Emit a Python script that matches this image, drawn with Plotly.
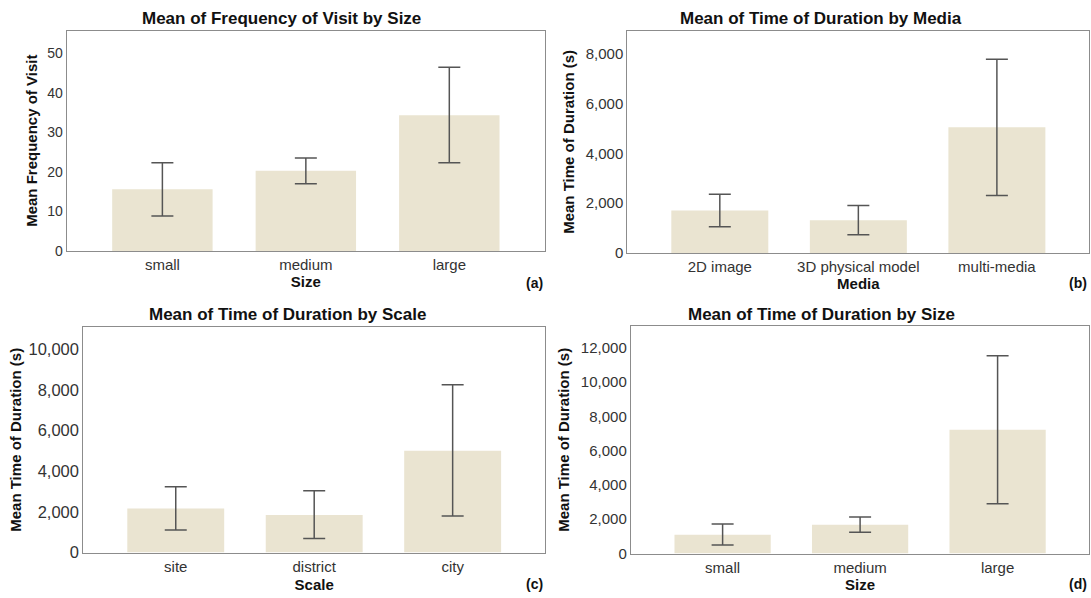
import plotly.graph_objects as go

W, H = 1091, 598
FONT = "Liberation Sans, Arial, sans-serif"
BAR = "#EAE4D1"
ERR = "#555555"
LINE = "#8C8C8C"

# ---- data ----
a_cats = ["small", "medium", "large"]
a_mean = [15.6, 20.3, 34.3]
a_hi = [22.3, 23.5, 46.4]
a_lo = [8.9, 17.0, 22.3]

b_cats = ["2D image", "3D physical model", "multi-media"]
b_mean = [1705, 1315, 5047]
b_hi = [2362, 1906, 7772]
b_lo = [1060, 738, 2309]

c_cats = ["site", "district", "city"]
c_mean = [2171, 1845, 5012]
c_hi = [3233, 3037, 8261]
c_lo = [1110, 686, 1796]

d_cats = ["small", "medium", "large"]
d_mean = [1100, 1680, 7220]
d_hi = [1718, 2124, 11525]
d_lo = [502, 1236, 2896]

titles = ["Mean of Frequency of Visit by Size", "Mean of Time of Duration by Media",
          "Mean of Time of Duration by Scale", "Mean of Time of Duration by Size"]
xtitles = ["Size", "Media", "Scale", "Size"]
ytitles = ["Mean Frequency of Visit", "Mean Time of Duration (s)",
           "Mean Time of Duration (s)", "Mean Time of Duration (s)"]
tags = ["(a)", "(b)", "(c)", "(d)"]

# ---- layout geometry (pixels) ----
boxes = [  # x0, x1, ytop, ybottom
    (66.7, 545.0, 31.0, 255.0),
    (627.4, 1089.3, 31.0, 257.0),
    (83.4, 545.0, 332.0, 561.0),
    (630.9, 1089.3, 331.0, 562.0),
]
yranges = [[0, 55.7], [0, 8920], [0, 11100], [0, 13260]]
ydticks = [10, 2000, 2000, 2000]
ytickfs = [14, 15, 16.5, 15]
xstandoff = [3, 3, 5, 4]
title_pos = [(281, 18.5), (821, 18.5), (287, 319), (821, 319)]
tag_y = [287, 287, 592.5, 592.5]
ytitle_x = [32, 569, 16, 564]

series = [(a_cats, a_mean, a_hi, a_lo), (b_cats, b_mean, b_hi, b_lo),
          (c_cats, c_mean, c_hi, c_lo), (d_cats, d_mean, d_hi, d_lo)]

fig = go.Figure()
annotations = []
for i, (cats, mean, hi, lo) in enumerate(series):
    k = "" if i == 0 else str(i + 1)
    fig.add_trace(go.Bar(
        x=cats, y=mean, width=0.7, marker=dict(color=BAR, line=dict(width=0)),
        error_y=dict(type="data", symmetric=False,
                     array=[h - m for h, m in zip(hi, mean)],
                     arrayminus=[m - l for m, l in zip(mean, lo)],
                     color=ERR, thickness=1.5, width=11),
        xaxis="x" + k, yaxis="y" + k, showlegend=False, hoverinfo="skip"))
    x0, x1, yt, yb = boxes[i]
    fig.update_layout(**{
        "xaxis" + k: dict(domain=[x0 / W, x1 / W], anchor="y" + k,
                          range=[-0.667, 2.667], showline=True, mirror=True,
                          linecolor=LINE, linewidth=1.3, ticks="", showgrid=False,
                          tickfont=dict(size=15, color="#333333", family=FONT),
                          title=dict(text="<b>" + xtitles[i] + "</b>", standoff=xstandoff[i],
                                     font=dict(size=15, color="#111111", family=FONT)),
                          fixedrange=True),
        "yaxis" + k: dict(domain=[1 - yb / H, 1 - yt / H], anchor="x" + k,
                          range=yranges[i], dtick=ydticks[i], tick0=0,
                          showline=True, mirror=True, linecolor=LINE, linewidth=1.3,
                          ticks="", showgrid=False, zeroline=False, tickformat=",d",
                          tickfont=dict(size=ytickfs[i], color="#333333", family=FONT),
                          fixedrange=True),
    })
    tx, ty = title_pos[i]
    annotations.append(dict(text="<b>" + titles[i] + "</b>", x=tx / W, y=1 - ty / H,
                            xref="paper", yref="paper", xanchor="center", yanchor="middle",
                            showarrow=False, font=dict(size=17, color="#111111", family=FONT)))
    annotations.append(dict(text="<b>" + ytitles[i] + "</b>", x=ytitle_x[i] / W,
                            y=1 - (yt + yb) / 2 / H, textangle=-90,
                            xref="paper", yref="paper", xanchor="center", yanchor="middle",
                            showarrow=False, font=dict(size=15, color="#111111", family=FONT)))
    annotations.append(dict(text="<b>" + tags[i] + "</b>", x=x1 / W, y=1 - tag_y[i] / H,
                            xref="paper", yref="paper", xanchor="right", yanchor="middle",
                            showarrow=False, font=dict(size=14, color="#111111", family=FONT)))

fig.update_layout(width=W, height=H, margin=dict(l=0, r=0, t=0, b=0),
                  paper_bgcolor="white", plot_bgcolor="white",
                  font=dict(family=FONT), annotations=annotations)
fig.write_html("out.html", config={"displayModeBar": False},
               post_script="document.body.style.margin='0';document.body.style.overflow='hidden';")
